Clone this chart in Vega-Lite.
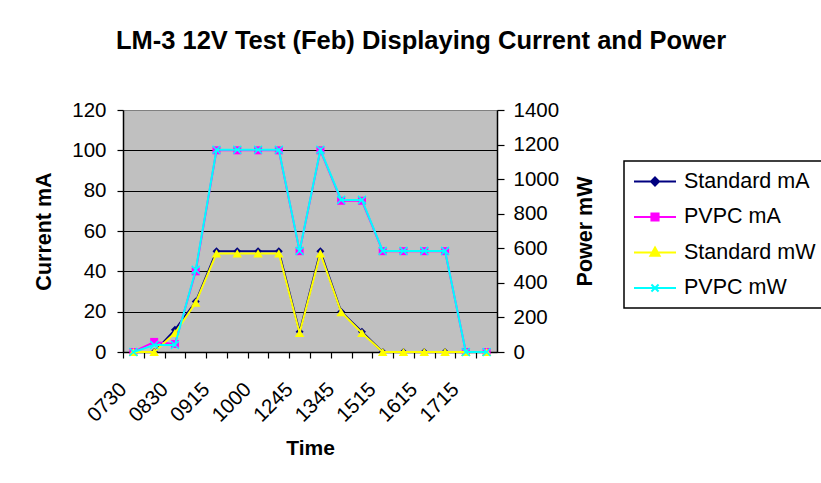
{
  "$schema": "https://vega.github.io/schema/vega-lite/v6.json",
  "width": 374,
  "height": 242,
  "autosize": {"type": "none"},
  "padding": {"left": 123, "top": 110, "right": 324, "bottom": 131},
  "background": "white",
  "title": {
    "text": "LM-3 12V Test (Feb) Displaying Current and Power",
    "font": "Liberation Sans",
    "fontSize": 25.5,
    "fontWeight": "bold",
    "color": "black",
    "anchor": "middle",
    "frame": "group",
    "dx": 111,
    "offset": 46
  },
  "config": {
    "view": {"fill": "#C0C0C0", "stroke": "#808080", "strokeWidth": 1},
    "font": "Liberation Sans",
    "axis": {
      "labelFont": "Liberation Sans",
      "labelFontSize": 20.5,
      "labelColor": "black",
      "titleFont": "Liberation Sans",
      "titleFontSize": 21.5,
      "titleFontWeight": "bold",
      "titleColor": "black",
      "domainColor": "black",
      "domainWidth": 1.5,
      "tickColor": "black",
      "tickWidth": 1.2
    }
  },
  "data": {
    "values": [
      {"time": "0730", "series": "Standard mA", "value": 0},
      {"time": "0800", "series": "Standard mA", "value": 0},
      {"time": "0830", "series": "Standard mA", "value": 11},
      {"time": "0845", "series": "Standard mA", "value": 25},
      {"time": "0915", "series": "Standard mA", "value": 50},
      {"time": "0930", "series": "Standard mA", "value": 50},
      {"time": "1000", "series": "Standard mA", "value": 50},
      {"time": "1015", "series": "Standard mA", "value": 50},
      {"time": "1245", "series": "Standard mA", "value": 10},
      {"time": "1300", "series": "Standard mA", "value": 50},
      {"time": "1345", "series": "Standard mA", "value": 20},
      {"time": "1400", "series": "Standard mA", "value": 10},
      {"time": "1515", "series": "Standard mA", "value": 0},
      {"time": "1530", "series": "Standard mA", "value": 0},
      {"time": "1615", "series": "Standard mA", "value": 0},
      {"time": "1630", "series": "Standard mA", "value": 0},
      {"time": "1715", "series": "Standard mA", "value": 0},
      {"time": "1730", "series": "Standard mA", "value": 0},
      {"time": "0730", "series": "PVPC mA", "value": 0},
      {"time": "0800", "series": "PVPC mA", "value": 5},
      {"time": "0830", "series": "PVPC mA", "value": 4},
      {"time": "0845", "series": "PVPC mA", "value": 40},
      {"time": "0915", "series": "PVPC mA", "value": 100},
      {"time": "0930", "series": "PVPC mA", "value": 100},
      {"time": "1000", "series": "PVPC mA", "value": 100},
      {"time": "1015", "series": "PVPC mA", "value": 100},
      {"time": "1245", "series": "PVPC mA", "value": 50},
      {"time": "1300", "series": "PVPC mA", "value": 100},
      {"time": "1345", "series": "PVPC mA", "value": 75},
      {"time": "1400", "series": "PVPC mA", "value": 75},
      {"time": "1515", "series": "PVPC mA", "value": 50},
      {"time": "1530", "series": "PVPC mA", "value": 50},
      {"time": "1615", "series": "PVPC mA", "value": 50},
      {"time": "1630", "series": "PVPC mA", "value": 50},
      {"time": "1715", "series": "PVPC mA", "value": 0},
      {"time": "1730", "series": "PVPC mA", "value": 0},
      {"time": "0730", "series": "Standard mW", "value": 0},
      {"time": "0800", "series": "Standard mW", "value": 0},
      {"time": "0830", "series": "Standard mW", "value": 110},
      {"time": "0845", "series": "Standard mW", "value": 285},
      {"time": "0915", "series": "Standard mW", "value": 570},
      {"time": "0930", "series": "Standard mW", "value": 570},
      {"time": "1000", "series": "Standard mW", "value": 570},
      {"time": "1015", "series": "Standard mW", "value": 570},
      {"time": "1245", "series": "Standard mW", "value": 110},
      {"time": "1300", "series": "Standard mW", "value": 570},
      {"time": "1345", "series": "Standard mW", "value": 230},
      {"time": "1400", "series": "Standard mW", "value": 110},
      {"time": "1515", "series": "Standard mW", "value": 0},
      {"time": "1530", "series": "Standard mW", "value": 0},
      {"time": "1615", "series": "Standard mW", "value": 0},
      {"time": "1630", "series": "Standard mW", "value": 0},
      {"time": "1715", "series": "Standard mW", "value": 0},
      {"time": "1730", "series": "Standard mW", "value": 0},
      {"time": "0730", "series": "PVPC mW", "value": 0},
      {"time": "0800", "series": "PVPC mW", "value": 40},
      {"time": "0830", "series": "PVPC mW", "value": 40},
      {"time": "0845", "series": "PVPC mW", "value": 475},
      {"time": "0915", "series": "PVPC mW", "value": 1170},
      {"time": "0930", "series": "PVPC mW", "value": 1170},
      {"time": "1000", "series": "PVPC mW", "value": 1170},
      {"time": "1015", "series": "PVPC mW", "value": 1170},
      {"time": "1245", "series": "PVPC mW", "value": 585},
      {"time": "1300", "series": "PVPC mW", "value": 1170},
      {"time": "1345", "series": "PVPC mW", "value": 880},
      {"time": "1400", "series": "PVPC mW", "value": 880},
      {"time": "1515", "series": "PVPC mW", "value": 585},
      {"time": "1530", "series": "PVPC mW", "value": 585},
      {"time": "1615", "series": "PVPC mW", "value": 585},
      {"time": "1630", "series": "PVPC mW", "value": 585},
      {"time": "1715", "series": "PVPC mW", "value": 0},
      {"time": "1730", "series": "PVPC mW", "value": 0}
    ]
  },
  "encoding": {
    "x": {
      "field": "time",
      "type": "ordinal",
      "scale": {
        "type": "point",
        "padding": 0.5,
        "domain": ["0730", "0800", "0830", "0845", "0915", "0930", "1000", "1015", "1245", "1300", "1345", "1400", "1515", "1530", "1615", "1630", "1715", "1730"]
      },
      "axis": {
        "title": "Time",
        "titleFontSize": 21,
        "titlePadding": 12,
        "labelAngle": -45,
        "labelAlign": "right",
        "labelBaseline": "middle",
        "labelPadding": 28,
        "labelOverlap": false,
        "labelFlush": false,
        "tickSize": 6,
        "tickOffset": -10.39,
        "grid": false,
        "labelExpr": "indexof(['0730','0830','0915','1000','1245','1345','1515','1615','1715'], datum.value) >= 0 ? datum.value : ''"
      }
    },
    "color": {
      "field": "series",
      "type": "nominal",
      "scale": {
        "domain": ["Standard mA", "PVPC mA", "Standard mW", "PVPC mW"],
        "range": ["#000080", "#FF00FF", "#FFFF00", "#00FFFF"]
      },
      "legend": {
        "title": null,
        "orient": "none",
        "legendX": 501,
        "legendY": 51,
        "strokeColor": "black",
        "fillColor": "white",
        "padding": 9,
        "labelFont": "Liberation Sans",
        "labelFontSize": 21.5,
        "labelColor": "black",
        "labelOffset": 17.5,
        "labelLimit": 300,
        "rowPadding": 13.5,
        "symbolSize": 441,
        "symbolOffset": 10.5,
        "symbolStrokeWidth": 2,
        "encode": {
          "legend": {"update": {"strokeWidth": {"value": 1.5}}},
          "symbols": {
            "update": {
              "shape": {"signal": "datum.value === 'Standard mA' ? 'M-2,0H2M0,-0.38L0.38,0L0,0.38L-0.38,0Z' : datum.value === 'PVPC mA' ? 'M-2,0H2M-0.34,-0.34H0.34V0.34H-0.34Z' : datum.value === 'Standard mW' ? 'M-2,0H2M0,-0.48L0.44,0.32H-0.44Z' : 'M-2,0H2M-0.34,-0.34L0.34,0.34M0.34,-0.34L-0.34,0.34'"},
              "fill": {"signal": "datum.value === 'Standard mA' ? '#000080' : datum.value === 'PVPC mA' ? '#FF00FF' : datum.value === 'Standard mW' ? '#FFFF00' : 'transparent'"},
              "stroke": {"signal": "datum.value === 'Standard mA' ? '#000080' : datum.value === 'PVPC mA' ? '#FF00FF' : datum.value === 'Standard mW' ? '#FFFF00' : '#00FFFF'"},
              "strokeWidth": {"value": 2},
              "size": {"value": 441},
              "opacity": {"value": 1}
            }
          }
        }
      }
    }
  },
  "layer": [
    {
      "encoding": {
        "y": {
          "field": "value",
          "type": "quantitative",
          "scale": {"domain": [0, 120], "nice": false},
          "axis": {
            "title": "Current mA",
            "values": [0, 20, 40, 60, 80, 100, 120],
            "tickSize": 6,
            "labelPadding": 11,
            "titlePadding": 16,
            "grid": true,
            "gridWidth": 1,
            "gridColor": {"condition": {"test": "datum.value === 120", "value": "#808080"}, "value": "black"}
          }
        }
      },
      "layer": [
        {"transform": [{"filter": "datum.series === 'Standard mA'"}], "mark": {"type": "line", "strokeWidth": 2}},
        {"transform": [{"filter": "datum.series === 'Standard mA'"}], "mark": {"type": "point", "shape": "diamond", "filled": true, "size": 64, "opacity": 1}},
        {"transform": [{"filter": "datum.series === 'PVPC mA'"}], "mark": {"type": "line", "strokeWidth": 2}},
        {"transform": [{"filter": "datum.series === 'PVPC mA'"}], "mark": {"type": "point", "shape": "square", "filled": true, "size": 64, "opacity": 1}}
      ]
    },
    {
      "encoding": {
        "y": {
          "field": "value",
          "type": "quantitative",
          "scale": {"domain": [0, 1400], "nice": false},
          "axis": {
            "orient": "right",
            "title": "Power mW",
            "titleAngle": 270,
            "titleBaseline": "top",
            "format": "d",
            "values": [0, 200, 400, 600, 800, 1000, 1200, 1400],
            "tickSize": 7,
            "labelPadding": 9,
            "titlePadding": 16,
            "grid": false
          }
        }
      },
      "layer": [
        {"transform": [{"filter": "datum.series === 'Standard mW'"}], "mark": {"type": "line", "strokeWidth": 2}},
        {"transform": [{"filter": "datum.series === 'Standard mW'"}], "mark": {"type": "point", "shape": "triangle-up", "filled": true, "size": 90, "opacity": 1}},
        {"transform": [{"filter": "datum.series === 'PVPC mW'"}], "mark": {"type": "line", "strokeWidth": 2}},
        {"transform": [{"filter": "datum.series === 'PVPC mW'"}], "mark": {"type": "point", "shape": "M-1,-1L1,1M1,-1L-1,1", "filled": false, "size": 64, "strokeWidth": 1.5, "opacity": 1}}
      ]
    }
  ],
  "resolve": {"scale": {"y": "independent"}}
}
